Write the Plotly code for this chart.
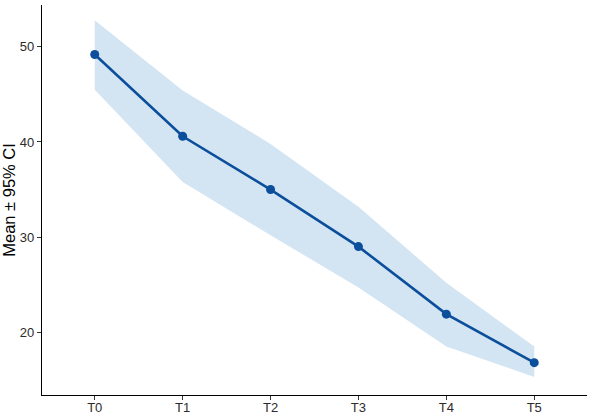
import plotly.graph_objects as go

categories = ["T0", "T1", "T2", "T3", "T4", "T5"]
mean_vals = [49.2, 40.6, 35.0, 29.0, 21.9, 16.8]
upper_vals = [52.8, 45.4, 39.8, 33.2, 25.2, 18.5]
lower_vals = [45.5, 35.8, 30.2, 24.7, 18.5, 15.3]

x_idx = list(range(len(categories)))

fig = go.Figure()
fig.add_trace(go.Scatter(x=x_idx, y=upper_vals, mode="lines", line=dict(width=0),
                         hoverinfo="skip", showlegend=False))
fig.add_trace(go.Scatter(x=x_idx, y=lower_vals, mode="lines", line=dict(width=0),
                         fill="tonexty", fillcolor="#d3e5f2", hoverinfo="skip", showlegend=False))
fig.add_trace(go.Scatter(x=x_idx, y=mean_vals, mode="lines+markers",
                         line=dict(color="#0b4e9c", width=2.6),
                         marker=dict(color="#0b4e9c", size=9), showlegend=False))

font_family = "Liberation Sans, Arial, sans-serif"
fig.update_layout(
    width=590, height=416,
    margin=dict(l=42, r=3, t=5, b=21, autoexpand=False),
    plot_bgcolor="white", paper_bgcolor="white",
    font=dict(family=font_family, color="#333333"),
    xaxis=dict(range=[-0.6, 5.6], tickmode="array", tickvals=x_idx, ticktext=categories,
               showgrid=False, zeroline=False, showline=True, linecolor="black", linewidth=1.2,
               ticks="outside", ticklen=4, tickcolor="#333333", tickwidth=1, automargin=False,
               ticklabelstandoff=-4,
               tickfont=dict(size=13, color="#2b2b2b")),
    yaxis=dict(range=[13.4, 54.4], tickvals=[20, 30, 40, 50],
               showgrid=False, zeroline=False, showline=True, linecolor="black", linewidth=1.2,
               ticks="outside", ticklen=4, tickcolor="#333333", tickwidth=1, automargin=False,
               tickfont=dict(size=13, color="#2b2b2b"),
               title=dict(text="Mean ± 95% CI", font=dict(size=16.5, color="black"), standoff=4)),
)

fig.write_html("out.html")
